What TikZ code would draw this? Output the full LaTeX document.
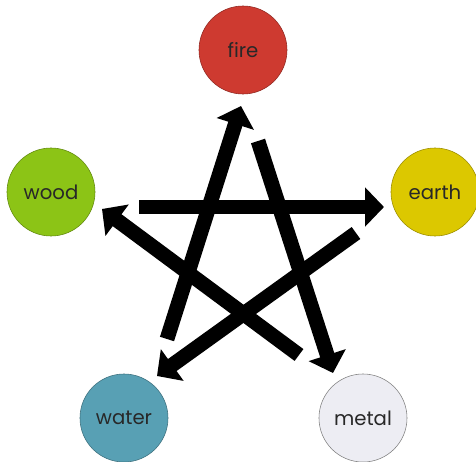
\documentclass[tikz,border=0pt]{standalone}
\usepackage{fontspec}
\setsansfont{Poppins}
\usetikzlibrary{arrows.meta}

\definecolor{firered}{RGB}{206,58,48}
\definecolor{woodgreen}{RGB}{140,196,22}
\definecolor{earthyellow}{RGB}{220,200,0}
\definecolor{waterblue}{RGB}{88,160,180}
\definecolor{metalgray}{RGB}{237,237,243}
\definecolor{labelgray}{RGB}{40,40,40}

\begin{document}
\begin{tikzpicture}[x=0.025cm, y=-0.025cm,
  element/.style={circle, draw=#1!70!black, line width=0.4pt, fill=#1, minimum size=2.2cm, inner sep=0pt, text=labelgray, font=\sffamily\fontsize{14}{16}\selectfont},
  cycle/.style={line width=10.5pt, -{Triangle[width=0.95cm, length=0.47cm]}}]
  \useasboundingbox (0,0) rectangle (476,462);
  % the five elements
  \node[element=firered] (fire) at (243,50) {fire};
  \node[element=woodgreen] (wood) at (51,192) {wood};
  \node[element=earthyellow] (earth) at (435,192) {earth};
  \node[element=waterblue] (water) at (124,418) {water};
  \node[element=metalgray, draw=gray] (metal) at (363,418) {metal};
  % arrow ends
  \coordinate (w2f) at (167,339);
  \coordinate (f2m) at (258,141);
  \coordinate (m2w) at (299,355);
  \coordinate (w2e) at (139,207);
  \coordinate (e2w) at (356,233);
  \coordinate (fireTip) at (241,106);
  \coordinate (metalTip) at (333,373);
  \coordinate (woodTip) at (102,209);
  \coordinate (earthTip) at (384,207);
  \coordinate (waterTip) at (157,376);
  \draw[cycle] (w2f) -- (fireTip);
  \draw[cycle] (f2m) -- (metalTip);
  \draw[cycle] (m2w) -- (woodTip);
  \draw[cycle] (w2e) -- (earthTip);
  \draw[cycle] (e2w) -- (waterTip);
\end{tikzpicture}
\end{document}
